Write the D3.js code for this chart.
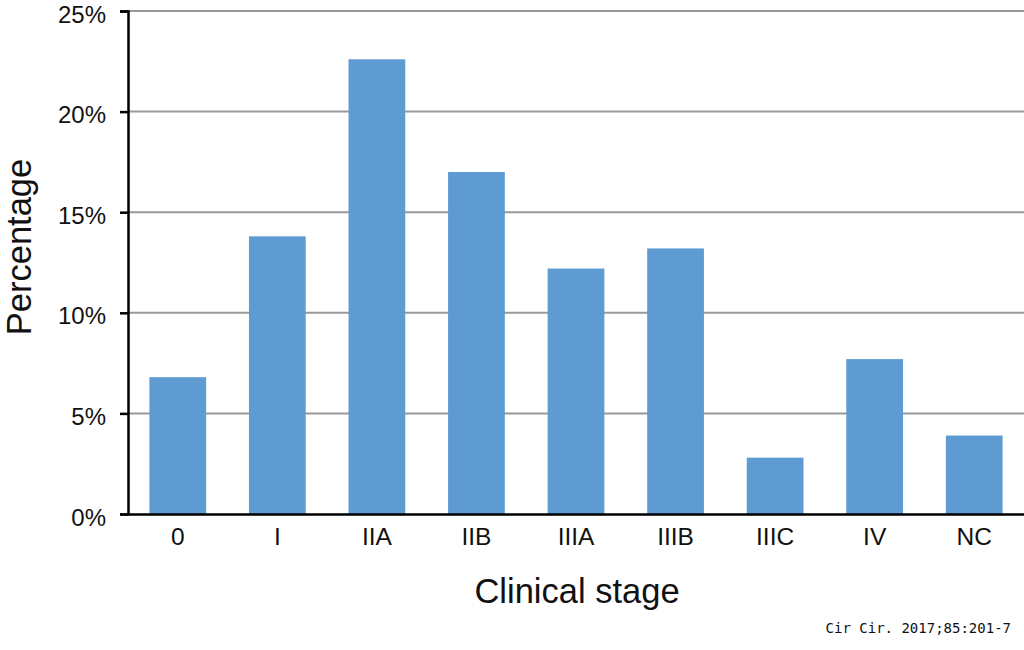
<!DOCTYPE html>
<html>
<head>
<meta charset="utf-8">
<script src="https://cdn.jsdelivr.net/npm/d3@7"></script>
<style>
  body { margin: 0; background: #fff; }
  text { font-family: "Liberation Sans", Arial, sans-serif; fill: #111; }
</style>
</head>
<body>
<svg id="chart" width="1024" height="650"></svg>
<script>
const width = 1024;
const height = 650;

const stages = ["0", "I", "IIA", "IIB", "IIIA", "IIIB", "IIIC", "IV", "NC"];
const percentages = [6.8, 13.8, 22.6, 17.0, 12.2, 13.2, 2.8, 7.7, 3.9];
const yTicks = [0, 5, 10, 15, 20, 25];

const margin = { top: 11, right: 0, bottom: 136, left: 128 };

const svg = d3.select("#chart");

const x = d3.scaleBand()
    .domain(stages)
    .range([margin.left, width - margin.right])
    .paddingInner(0.43)
    .paddingOuter(0.215);

const y = d3.scaleLinear()
    .domain([0, 25])
    .range([height - margin.bottom, margin.top]);

// Gridlines
svg.append("g")
    .selectAll("line")
    .data(yTicks.slice(1))
    .enter().append("line")
    .attr("x1", margin.left)
    .attr("x2", width)
    .attr("y1", d => y(d))
    .attr("y2", d => y(d))
    .attr("stroke", "#999")
    .attr("stroke-width", 2);

// Bars
svg.append("g")
    .selectAll("rect")
    .data(percentages)
    .enter().append("rect")
    .attr("x", (d, i) => x(stages[i]))
    .attr("y", d => y(d))
    .attr("width", x.bandwidth())
    .attr("height", d => y(0) - y(d))
    .attr("fill", "#5e9bd3");

// Y axis
const yAxis = svg.append("g")
    .attr("transform", `translate(${margin.left},0)`)
    .call(d3.axisLeft(y).tickValues(yTicks).tickFormat(d => d + "%").tickSize(8).tickPadding(14));
yAxis.select(".domain").attr("stroke", "#000").attr("stroke-width", 2.5);
yAxis.selectAll(".tick line").attr("stroke", "#000").attr("stroke-width", 2.5);
yAxis.selectAll(".tick text")
    .attr("font-size", 24)
    .attr("y", 3.5)
    .attr("font-family", "Liberation Sans, Arial, sans-serif")
    .attr("fill", "#111");

// X axis
const xAxis = svg.append("g")
    .attr("transform", `translate(0,${y(0)})`)
    .call(d3.axisBottom(x).tickSize(0).tickPadding(14));
xAxis.select(".domain").attr("stroke", "#000").attr("stroke-width", 2.5);
xAxis.selectAll(".tick text")
    .attr("font-size", 24.5)
    .attr("font-family", "Liberation Sans, Arial, sans-serif")
    .attr("fill", "#111");

// Axis titles
svg.append("text")
    .attr("x", 577)
    .attr("y", 603)
    .attr("text-anchor", "middle")
    .attr("font-size", 34.5)
    .text("Clinical stage");

svg.append("text")
    .attr("transform", "translate(31,247) rotate(-90)")
    .attr("text-anchor", "middle")
    .attr("font-size", 34.5)
    .text("Percentage");

// Source note
svg.append("text")
    .attr("x", 1011)
    .attr("y", 633)
    .attr("text-anchor", "end")
    .attr("font-size", 14)
    .style("font-family", "'DejaVu Sans Mono', monospace")
    .text("Cir Cir. 2017;85:201-7");
</script>
</body>
</html>
